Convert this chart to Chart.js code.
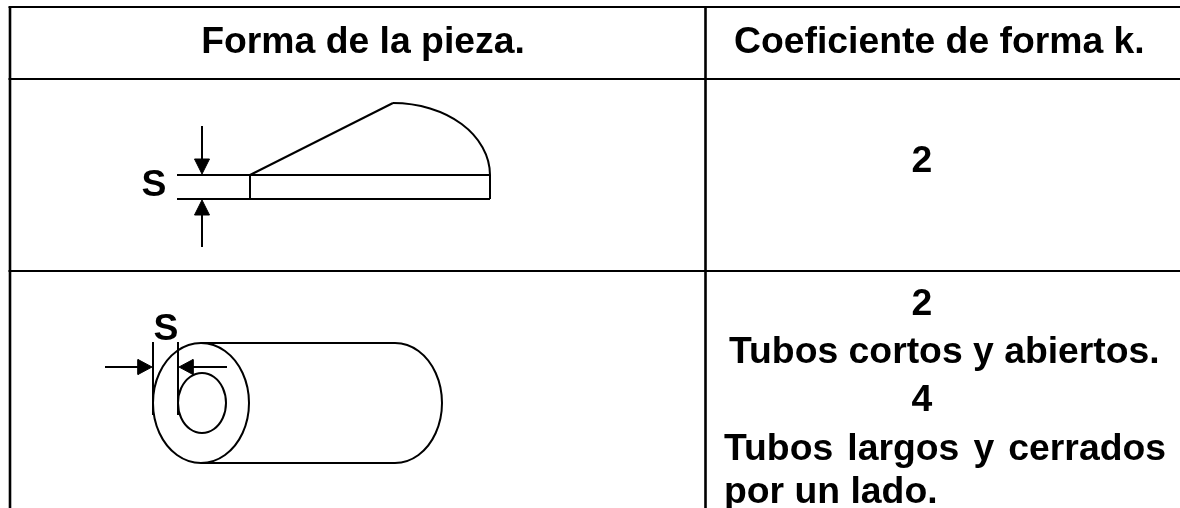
<!DOCTYPE html>
<html>
<head>
<meta charset="utf-8">
<style>
  html, body { margin: 0; padding: 0; background: #fff; }
  canvas { display: block; }
</style>
<script src="https://cdn.jsdelivr.net/npm/chart.js@4/dist/chart.umd.min.js"></script>
</head>
<body>
<canvas id="chart" width="1180" height="508"></canvas>
<script>
// table rules
const tableTop = [[8.5, 7], [1180, 7]];
const tableLeft = [[10, 7], [10, 508]];
const tableMiddle = [[705.5, 7], [705.5, 508]];
const rowLine1 = [[8.5, 79], [1180, 79]];
const rowLine2 = [[8.5, 271], [1180, 271]];

// first drawing: the wedge
const wedgeTop = [[177, 175], [490, 175]];
const wedgeBottom = [[177, 199], [490, 199]];
const wedgeLeft = [[250, 175], [250, 199]];
const wedgeRight = [[490, 175], [490, 199]];
const wedgeSlope = [[250, 175], [393, 103]];
// curves carry one extra point at each end, those two segments stay hidden
const wedgeArc = [[355.9, 108.5], [393, 103], [430.1, 108.5], [461.6, 124], [482.6, 147.4], [490, 175], [482.6, 202.6]];
const arrowDownLine = [[202, 126], [202, 165]];
const arrowDownHead = [[202, 174], [194.5, 159], [209.5, 159], [202, 174]];
const arrowUpLine = [[202, 208], [202, 247]];
const arrowUpHead = [[202, 200], [194.5, 215], [209.5, 215], [202, 200]];

// second drawing: the tube
const tubeOuter = [[242.6, 433], [249, 403], [242.6, 373], [225, 351], [201, 343], [177, 351], [159.4, 373], [153, 403],
  [159.4, 433], [177, 455], [201, 463], [225, 455], [242.6, 433], [249, 403], [242.6, 373]];
const tubeInner = [[222.8, 418], [226, 403], [222.8, 388], [214, 377], [202, 373], [190, 377], [181.2, 388], [178, 403],
  [181.2, 418], [190, 429], [202, 433], [214, 429], [222.8, 418], [226, 403], [222.8, 388]];
const tubeTop = [[201, 343], [395, 343]];
const tubeBottom = [[201, 463], [395, 463]];
const tubeEnd = [[371.5, 351], [395, 343], [418.5, 351], [435.7, 373], [442, 403], [435.7, 433], [418.5, 455], [395, 463], [371.5, 455]];
const tickLeft = [[153, 342], [153, 415]];
const tickRight = [[178, 342], [178, 415]];
const arrowInLeftLine = [[105, 367], [140, 367]];
const arrowInLeftHead = [[152, 367], [138, 359.5], [138, 374.5], [152, 367]];
const arrowInRightLine = [[190, 367], [227, 367]];
const arrowInRightHead = [[179, 367], [193, 359.5], [193, 374.5], [179, 367]];

const strokes = [
  { points: tableTop, width: 2 }, { points: tableLeft, width: 2.6 }, { points: tableMiddle, width: 2.6 },
  { points: rowLine1, width: 2 }, { points: rowLine2, width: 2 },
  { points: wedgeTop, width: 2 }, { points: wedgeBottom, width: 2 }, { points: wedgeLeft, width: 2 },
  { points: wedgeRight, width: 2 }, { points: wedgeSlope, width: 2 }, { points: wedgeArc, width: 2, curve: 0.375 },
  { points: arrowDownLine, width: 2 }, { points: arrowUpLine, width: 2 },
  { points: tubeOuter, width: 2, curve: 0.35 }, { points: tubeInner, width: 2, curve: 0.35 },
  { points: tubeTop, width: 2 }, { points: tubeBottom, width: 2 }, { points: tubeEnd, width: 2, curve: 0.35 },
  { points: tickLeft, width: 2 }, { points: tickRight, width: 2 },
  { points: arrowInLeftLine, width: 2 }, { points: arrowInRightLine, width: 2 },
];
const heads = [arrowDownHead, arrowUpHead, arrowInLeftHead, arrowInRightHead];

// text: string, x, baseline y, alignment, justified width
const labels = [
  ["Forma de la pieza.", 363, 53, "center"],
  ["Coeficiente de forma k.", 734, 53, "left"],
  ["S", 154, 196, "center"],
  ["S", 166, 340, "center"],
  ["2", 922, 172, "center"],
  ["2", 922, 315, "center"],
  ["Tubos cortos y abiertos.", 729, 362.5, "left"],
  ["4", 922, 411, "center"],
  ["Tubos largos y cerrados", 724, 460, "left", 442],
  ["por un lado.", 724, 503, "left"],
];

const labelFont = 'bold 37.33px "Liberation Sans", Arial, sans-serif';

// writes the labels at their data positions
const tableText = {
  id: "tableText",
  afterDatasetsDraw(chart) {
    const { ctx, scales } = chart;
    ctx.save();
    ctx.font = labelFont;
    ctx.fillStyle = "#000";
    ctx.textBaseline = "alphabetic";
    labels.forEach(([text, x, y, align, fitWidth]) => {
      ctx.textAlign = align;
      ctx.wordSpacing = "0px";
      if (fitWidth) {
        const gaps = text.split(" ").length - 1;
        ctx.wordSpacing = (fitWidth - ctx.measureText(text).width) / gaps + "px";
      }
      ctx.fillText(text, scales.x.getPixelForValue(x), scales.y.getPixelForValue(y));
    });
    ctx.restore();
  }
};

const toXY = (pts) => pts.map(([x, y]) => ({ x, y }));

const datasets = strokes.map((s) => ({
  data: toXY(s.points),
  showLine: true,
  borderColor: "#000",
  borderWidth: s.width,
  borderCapStyle: "butt",
  pointRadius: 0,
  tension: s.curve || 0,
  fill: false,
  // hide the first and last segment of a curve
  segment: s.curve ? {
    borderColor: (c) => (c.p0DataIndex === 0 || c.p1DataIndex === s.points.length - 1) ? "rgba(0,0,0,0)" : "#000",
  } : undefined,
})).concat(heads.map((h) => ({
  data: toXY(h),
  showLine: true,
  borderColor: "#000",
  borderWidth: 1,
  backgroundColor: "#000",
  pointRadius: 0,
  fill: "shape",
})));

new Chart(document.getElementById("chart"), {
  type: "scatter",
  data: { datasets },
  options: {
    responsive: false,
    animation: false,
    layout: { padding: 0 },
    plugins: { legend: { display: false }, tooltip: { enabled: false } },
    scales: {
      x: { type: "linear", display: false, min: 0, max: 1180 },
      y: { type: "linear", display: false, min: 0, max: 508, reverse: true },
    },
  },
  plugins: [tableText],
});
</script>
</body>
</html>
